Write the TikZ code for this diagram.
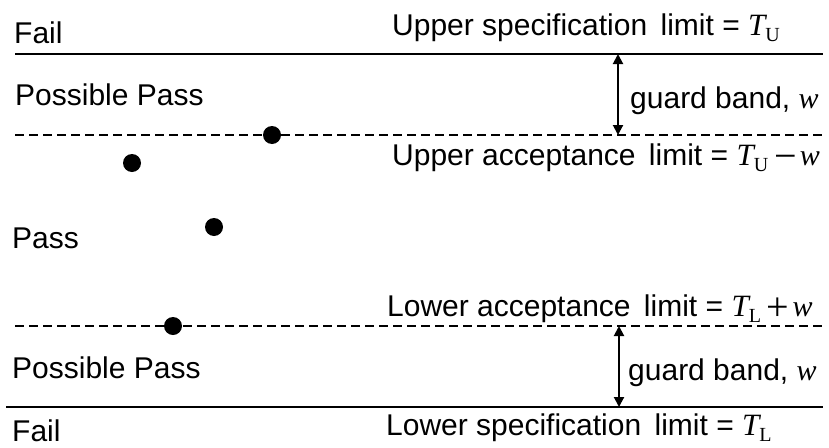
\documentclass[tikz,border=0pt]{standalone}
\usepackage{fontspec}
\setmainfont{Liberation Sans}
\newfontfamily\serf{Liberation Serif}
\usetikzlibrary{arrows.meta}
\newcommand\mT[1]{{\serf\itshape\fontsize{31}{31}\selectfont T}\raisebox{-0.2em}{\serf\fontsize{20}{20}\selectfont #1}}
\newcommand\mw{{\serf\itshape\fontsize{30}{30}\selectfont w}}
\newcommand\mop[1]{\hspace{6pt}\raisebox{-4pt}{\serf\fontsize{40}{40}\selectfont #1}\hspace{3pt}}
\newcommand\wsp{\hspace{5pt}}
\begin{document}
\begin{tikzpicture}[x=1pt,y=-1pt,
  lbl/.style={anchor=base west,inner sep=0pt,font=\fontsize{30}{34}\selectfont},
  solidline/.style={line width=2pt},
  dashline/.style={line width=2pt,dash pattern=on 9pt off 5pt},
  dot/.style={circle,fill=black,inner sep=0pt,minimum size=18pt},
  gb/.style={line width=2pt,{Triangle[length=10pt,width=10pt]}-{Triangle[length=10pt,width=10pt]}}]
\useasboundingbox (0,0) rectangle (829,447);
% lines
\coordinate (usl1) at (15,54);  \coordinate (usl2) at (823,54);
\coordinate (ual1) at (15,135); \coordinate (ual2) at (823,135);
\coordinate (lal1) at (15,326); \coordinate (lal2) at (823,326);
\coordinate (lsl1) at (6,407);  \coordinate (lsl2) at (823,407);
\draw[solidline] (usl1) -- (usl2);
\draw[dashline] (ual1) -- (ual2);
\draw[dashline] (lal1) -- (lal2);
\draw[solidline] (lsl1) -- (lsl2);
% guard band arrows
\coordinate (ga1) at (618,54);  \coordinate (ga2) at (618,135);
\coordinate (gb1) at (619,326); \coordinate (gb2) at (619,407);
\draw[gb] (ga1) -- (ga2);
\draw[gb] (gb1) -- (gb2);
% dots
\node[dot] (d1) at (272,135) {};
\node[dot] (d2) at (132,163) {};
\node[dot] (d3) at (214,227) {};
\node[dot] (d4) at (173,326) {};
% left labels
\node[lbl] (fail1) at (14,43) {Fail};
\node[lbl] (pp1) at (15,105) {Possible Pass};
\node[lbl] (pass) at (12,248) {Pass};
\node[lbl] (pp2) at (12,378) {Possible Pass};
\node[lbl] (fail2) at (12,441) {Fail};
% right labels
\node[lbl] (usl) at (392,35) {Upper specification \wsp limit = \mT{U}};
\node[lbl] (gbu) at (630,108) {guard band, \mw};
\node[lbl] (ual) at (392,165) {Upper acceptance \wsp limit = \mT{U}\mop{−}\mw};
\node[lbl] (lal) at (387,316) {Lower acceptance \wsp limit = \mT{L}\mop{+}\mw};
\node[lbl] (gbl) at (628,380) {guard band, \mw};
\node[lbl] (lsl) at (386,435) {Lower specification \wsp limit = \mT{L}};
\end{tikzpicture}
\end{document}
